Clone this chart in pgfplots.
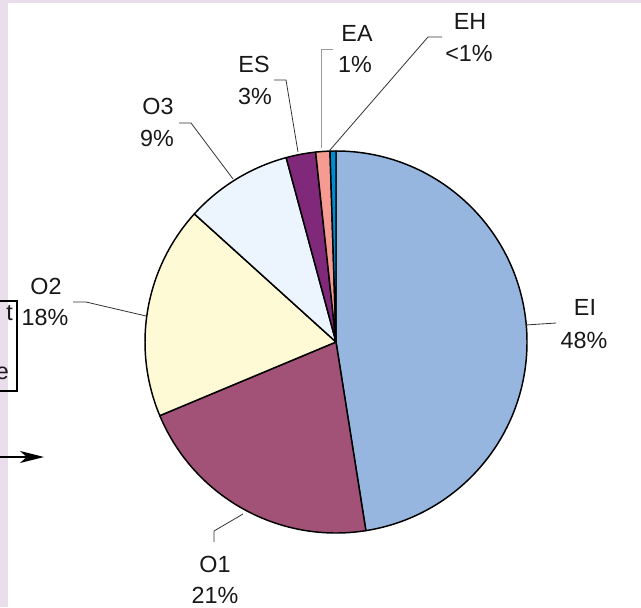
\documentclass[border=0pt]{standalone}
\usepackage{pgfplots}
\pgfplotsset{compat=1.18}
\usepackage{pgfplotstable}
\usepackage{fontspec}
\setmainfont{Liberation Sans}
\usetikzlibrary{arrows.meta}

\definecolor{cEI}{HTML}{96B5DF}
\definecolor{cO1}{HTML}{A15276}
\definecolor{cO2}{HTML}{FFFAD6}
\definecolor{cO3}{HTML}{ECF5FD}
\definecolor{cES}{HTML}{80287A}
\definecolor{cEA}{HTML}{F59B91}
\definecolor{cEH}{HTML}{008CD2}
\definecolor{bgpink}{HTML}{EADDEC}
\definecolor{txt}{HTML}{1A1718}

% shares in percent, clockwise from 12 o'clock
\pgfplotstableread{
name share fill
EI 47.5 cEI
O1 21.2 cO1
O2 18.0 cO2
O3 9.1 cO3
ES 2.5 cES
EA 1.2 cEA
EH 0.5 cEH
}\piedata

\begin{document}
\begin{tikzpicture}
\path[use as bounding box] (0,0) rectangle (480.75pt,455.25pt);
\clip (0,0) rectangle (480.75pt,455.25pt);
\begin{axis}[
    x=0.75pt, y=0.75pt,
    xmin=0, xmax=641, ymin=0, ymax=607,
    scale only axis, hide axis, clip=false,
]
% slide backdrop
\fill[bgpink] (axis cs:0,0) rectangle (axis cs:641,607);
\fill[white] (axis cs:8,0) rectangle (axis cs:641,604);

% pie slices
\def\cum{0}
\pgfplotsforeachungrouped \i in {0,...,6}{%
    \pgfplotstablegetelem{\i}{share}\of\piedata \let\val\pgfplotsretval
    \pgfplotstablegetelem{\i}{fill}\of\piedata \let\col\pgfplotsretval
    \pgfmathsetmacro\sa{90-3.6*\cum}
    \pgfmathsetmacro\ea{90-3.6*(\cum+\val)}
    \edef\slice{\noexpand\filldraw[fill=\col, draw=black, line width=1.1pt, line join=round]
        (axis cs:336,265) -- ++(\sa:143.25pt) arc[start angle=\sa, end angle=\ea, radius=143.25pt] -- cycle;}
    \slice
    \pgfmathsetmacro\cum{\cum+\val}
}

% leader lines
\draw[black!80, line width=0.6pt] (axis cs:526,282) -- (axis cs:556,284);
\draw[black!80, line width=0.6pt] (axis cs:243,93) -- (axis cs:214,76) -- (axis cs:214,65);
\draw[black!80, line width=0.6pt] (axis cs:146,291) -- (axis cs:86,305) -- (axis cs:73,305);
\draw[black!80, line width=0.6pt] (axis cs:233,428) -- (axis cs:191,484) -- (axis cs:179,484);
\draw[black!80, line width=0.6pt] (axis cs:298,455) -- (axis cs:286,527) -- (axis cs:274,527);
\draw[gray!80, line width=0.6pt] (axis cs:321,459) -- (axis cs:321,558) -- (axis cs:333,558);
\draw[black!80, line width=0.6pt] (axis cs:330,457) -- (axis cs:428,570) -- (axis cs:442,570);

% labels
\begin{scope}[every node/.style={inner sep=0pt, text=txt, font=\fontsize{17.5}{21}\selectfont}]
\node at (axis cs:585,300) {EI};
\node at (axis cs:584,267) {48\%};
\node at (axis cs:215,43) {O1};
\node at (axis cs:215,12) {21\%};
\node at (axis cs:46,321) {O2};
\node at (axis cs:45,290) {18\%};
\node at (axis cs:158,501) {O3};
\node at (axis cs:157,469) {9\%};
\node at (axis cs:254,543) {ES};
\node at (axis cs:255,511) {3\%};
\node at (axis cs:357,574) {EA};
\node at (axis cs:355,543) {1\%};
\node at (axis cs:470,586) {EH};
\node at (axis cs:469,554) {<1\%};
\node[anchor=east] at (axis cs:13,294) {t};
\node[anchor=east] at (axis cs:9,234) {e};
\end{scope}

% fragments of the slide around the chart
\draw[black, line width=1.1pt] (axis cs:-5,216) -- (axis cs:17,216) -- (axis cs:17,306) -- (axis cs:-5,306);
\draw[black, line width=1.1pt, -{Stealth[length=18pt,width=9pt,inset=5pt]}] (axis cs:-5,150) -- (axis cs:44,150);
\end{axis}
\end{tikzpicture}
\end{document}
